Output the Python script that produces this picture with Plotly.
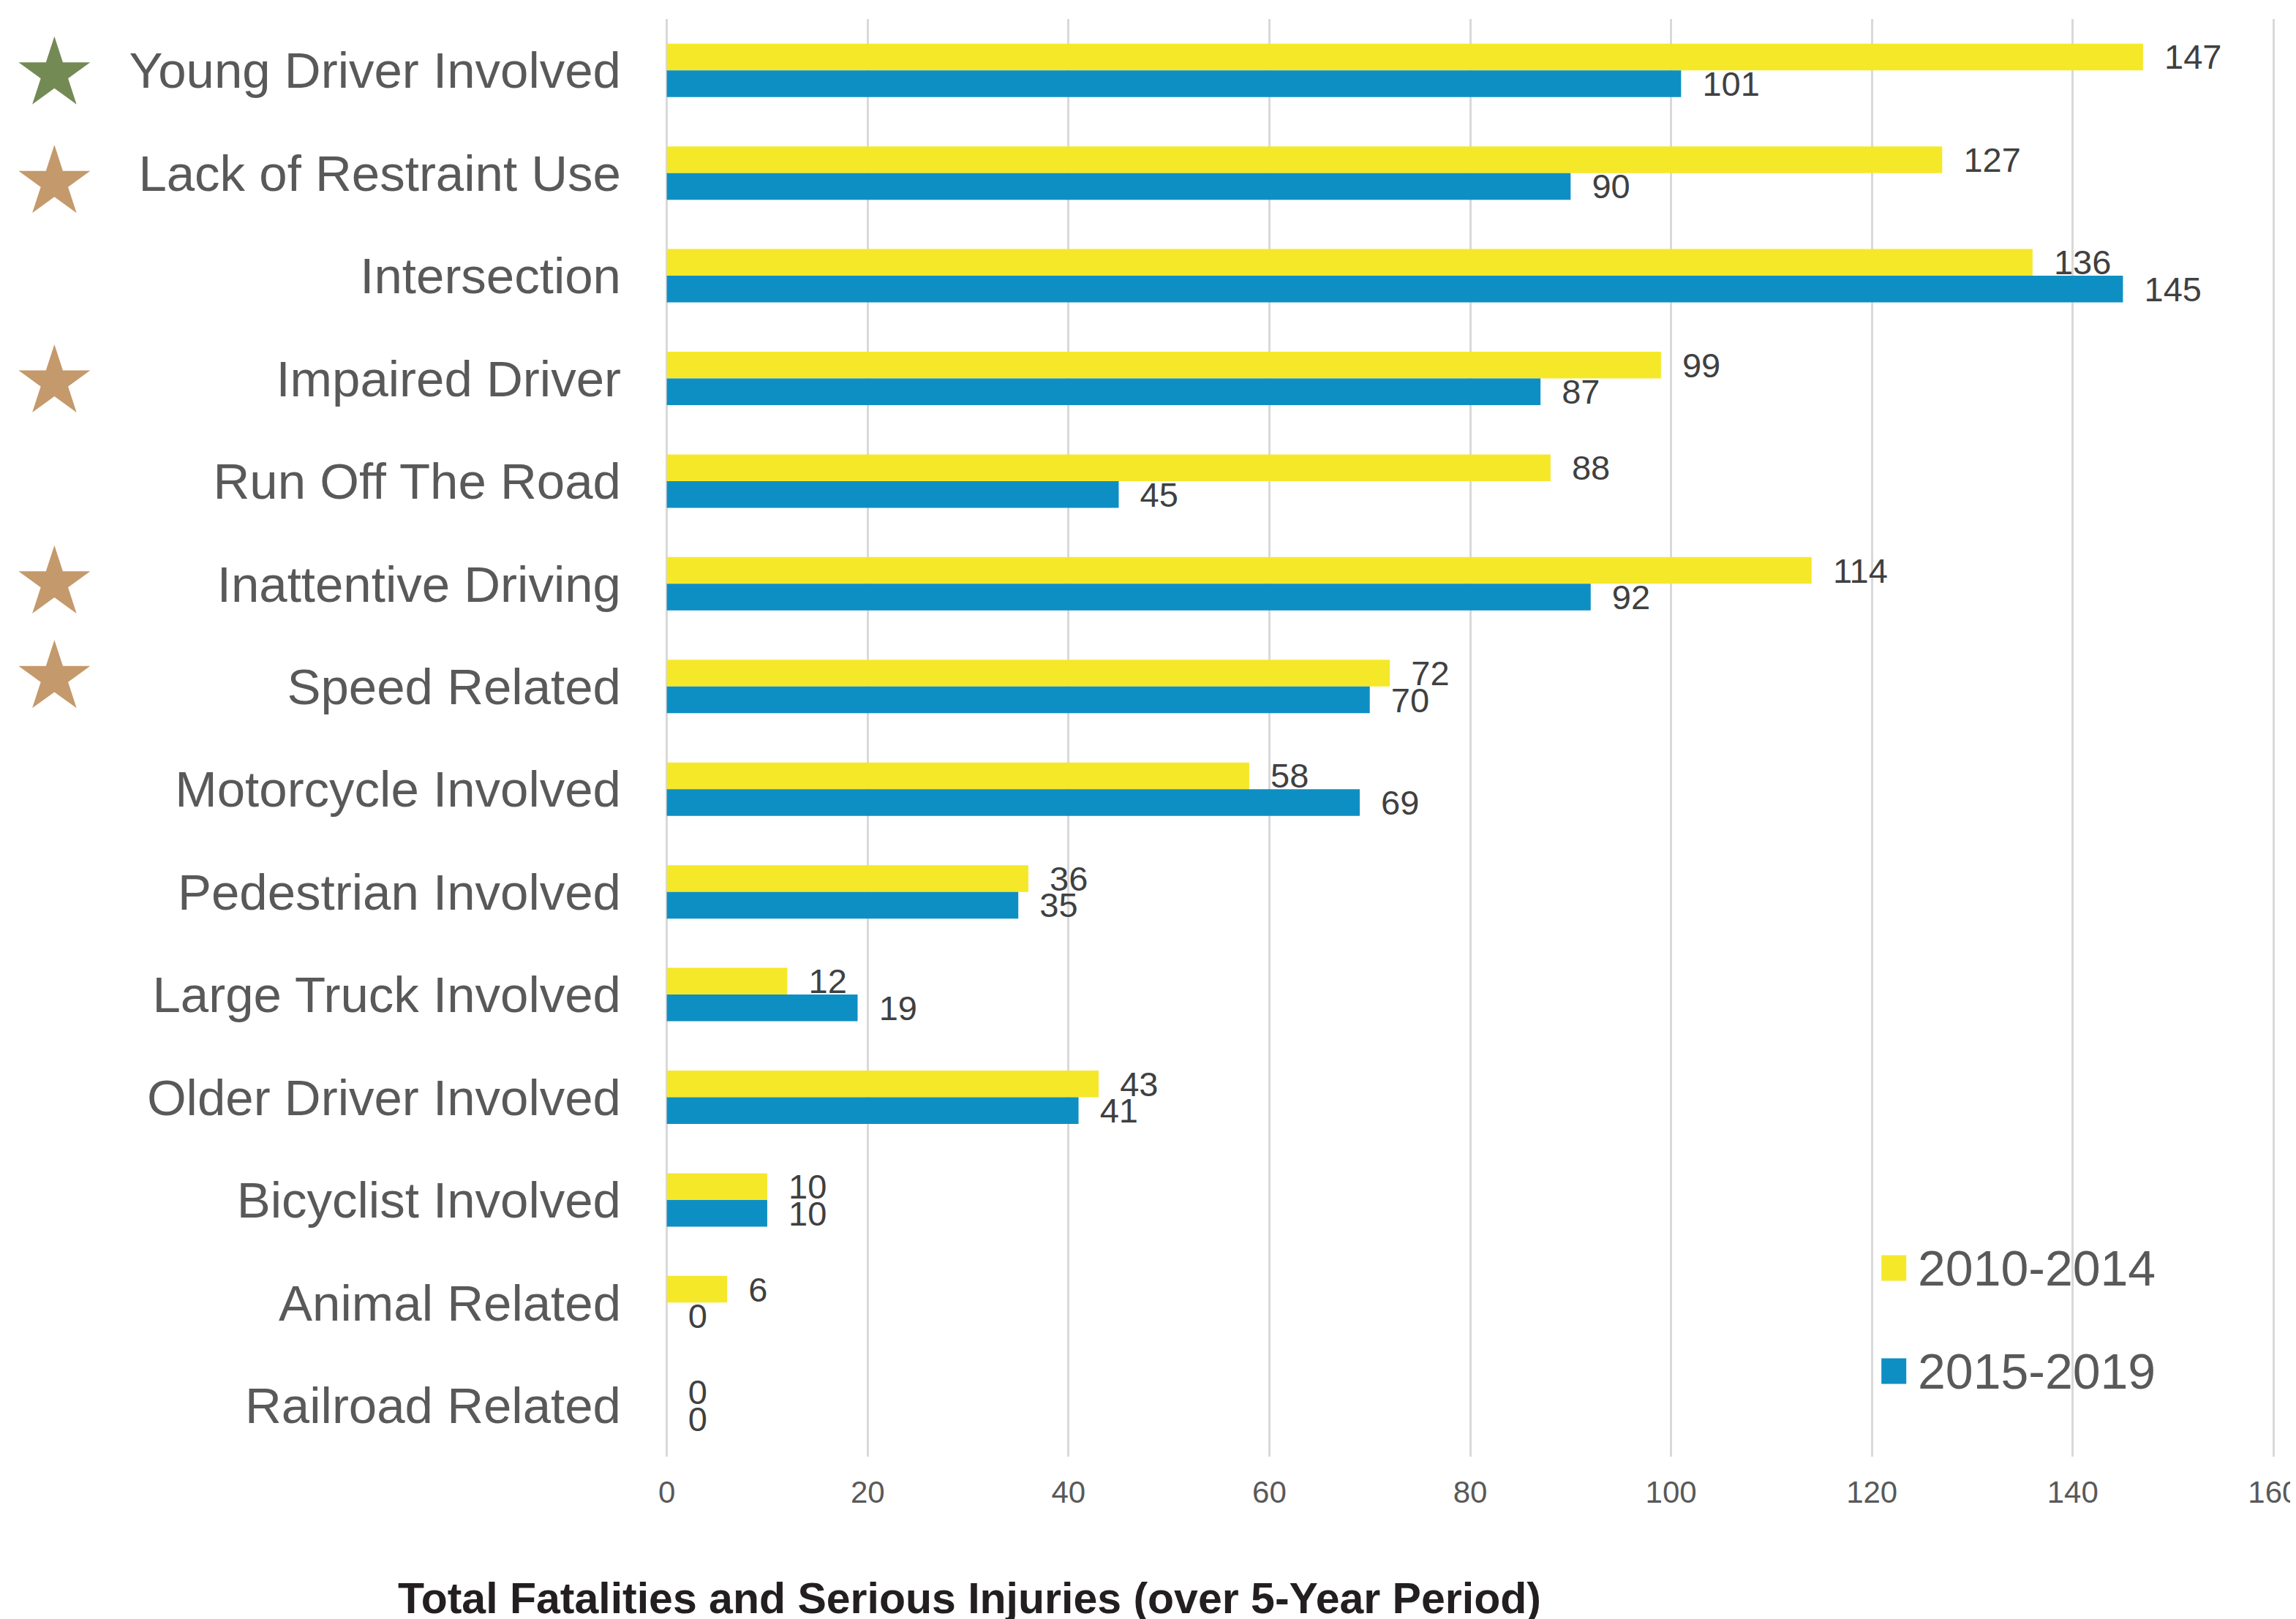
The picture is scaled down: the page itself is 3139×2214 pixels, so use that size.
import math
import plotly.graph_objects as go

categories = [
    "Young Driver Involved", "Lack of Restraint Use", "Intersection",
    "Impaired Driver", "Run Off The Road", "Inattentive Driving",
    "Speed Related", "Motorcycle Involved", "Pedestrian Involved",
    "Large Truck Involved", "Older Driver Involved", "Bicyclist Involved",
    "Animal Related", "Railroad Related",
]
series_names = ["2010-2014", "2015-2019"]
values_2010_2014 = [147, 127, 136, 99, 88, 114, 72, 58, 36, 12, 43, 10, 6, 0]
values_2015_2019 = [101, 90, 145, 87, 45, 92, 70, 69, 35, 19, 41, 10, 0, 0]
x_ticks = [0, 20, 40, 60, 80, 100, 120, 140, 160]

# starred categories: (category, colour, vertical pixel offset)
starred = [
    ("Young Driver Involved", "#748A55", 0),
    ("Lack of Restraint Use", "#C4996B", -8),
    ("Impaired Driver", "#C4996B", 0),
    ("Inattentive Driving", "#C4996B", 6),
    ("Speed Related", "#C4996B", 17),
]

YELLOW = "#F5E829"
BLUE = "#0E8FC4"
FONT = "Liberation Sans, Arial, sans-serif"

# page has an 8px body margin; work in page coordinates and convert
OFF = 8
W, H = 3139 - OFF, 2214 - OFF
X0_PAGE, X160_PAGE = 912, 3108
TOP_PAGE, BOT_PAGE = 26, 1992
PAD_UNITS = 0.12
scale = (X160_PAGE - X0_PAGE) / 160.0
L = X0_PAGE - OFF - PAD_UNITS * scale
PLOT_RIGHT = X160_PAGE - OFF + PAD_UNITS * scale
R = W - PLOT_RIGHT
T = TOP_PAGE - OFF
B = H - (BOT_PAGE - OFF)
PW = W - L - R
PH = H - T - B


def px(xpage):
    return (xpage - OFF - L) / PW


def py(ypage):
    return (T + PH - (ypage - OFF)) / PH


fig = go.Figure()
for name, vals, col in [(series_names[0], values_2010_2014, YELLOW),
                        (series_names[1], values_2015_2019, BLUE)]:
    fig.add_trace(go.Bar(
        y=categories, x=vals, name=name, orientation="h",
        marker=dict(color=col, line=dict(width=0)),
        text=vals, texttemplate="\u00a0\u00a0%{x}", textposition="outside",
        textfont=dict(family=FONT, size=47, color="#404040"),
        constraintext="none", cliponaxis=False, showlegend=False,
        hoverinfo="x+y",
    ))

# star shapes (pixel-sized, anchored next to category labels)
Rs = 51.5
pts = []
for i in range(10):
    ang = math.radians(90 + i * 36)
    r = Rs if i % 2 == 0 else Rs * 0.382
    pts.append((r * math.cos(ang), r * math.sin(ang)))
shapes = []
for cat, col, off in starred:
    dy = off - 0.0955 * Rs
    path = "M" + " L".join(f"{a:.2f},{b + dy:.2f}" for a, b in pts) + " Z"
    shapes.append(dict(
        type="path", xref="paper", yref="y", xsizemode="pixel", ysizemode="pixel",
        xanchor=px(75), yanchor=cat, path=path,
        fillcolor=col, line=dict(width=0), layer="above",
    ))

# manual legend
annotations = []
legend_rows = [(series_names[0], YELLOW, 1734), (series_names[1], BLUE, 1875)]
for name, col, yc in legend_rows:
    shapes.append(dict(
        type="rect", xref="paper", yref="paper",
        x0=px(2572), x1=px(2606), y0=py(yc + 17.5), y1=py(yc - 17.5),
        fillcolor=col, line=dict(width=0),
    ))
    annotations.append(dict(
        xref="paper", yref="paper", x=px(2620), y=py(yc),
        xanchor="left", yanchor="middle", text=name, showarrow=False,
        font=dict(family=FONT, size=68, color="#595959"),
    ))

annotations.append(dict(
    xref="paper", yref="paper", x=px(1326), y=py(2186),
    xanchor="center", yanchor="middle", showarrow=False,
    text="<b>Total Fatalities and Serious Injuries (over 5-Year Period)</b>",
    font=dict(family=FONT, size=59, color="#231F20"),
))

fig.update_layout(
    width=W, height=H,
    margin=dict(l=L, r=R, t=T, b=B, pad=0, autoexpand=False),
    paper_bgcolor="white", plot_bgcolor="white",
    barmode="group", bargap=0.48, bargroupgap=0,
    showlegend=False,
    shapes=shapes, annotations=annotations,
    font=dict(family=FONT),
)
fig.update_xaxes(
    range=[-PAD_UNITS, 160 + PAD_UNITS], tickvals=x_ticks, showgrid=True,
    gridcolor="#D9D9D9", gridwidth=3, zeroline=False, showline=False, ticks="",
    tickfont=dict(family=FONT, size=42, color="#595959"),
    ticklabelstandoff=20, ticklabeloverflow="allow",
)
fig.update_yaxes(
    categoryorder="array", categoryarray=categories, autorange="reversed",
    showgrid=False, zeroline=False, showline=False, ticks="",
    tickfont=dict(family=FONT, size=69, color="#595959"),
    ticklabelstandoff=60,
)

fig.write_html("out.html")
